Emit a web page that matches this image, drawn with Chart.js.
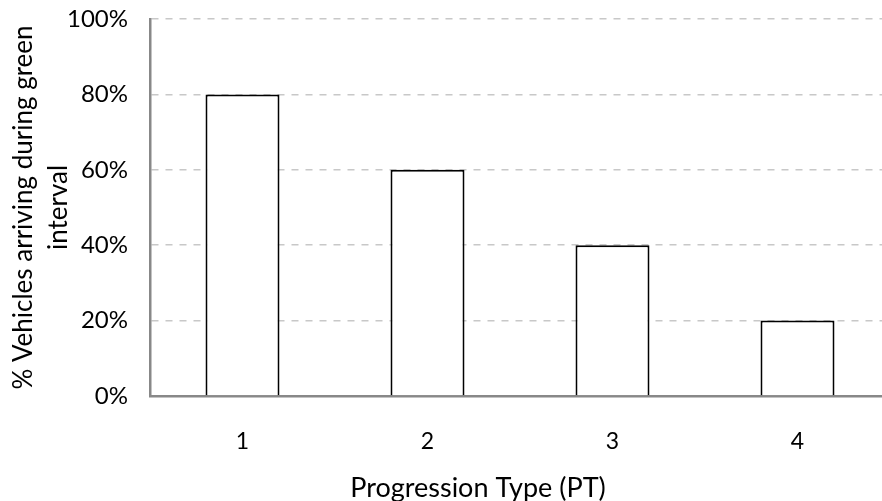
<!DOCTYPE html>
<html>
<head>
<meta charset="utf-8">
<script src="https://cdn.jsdelivr.net/npm/chart.js@4"></script>
<style>
  html, body { margin: 0; padding: 0; background: #fff; overflow: hidden; }
  #wrap { width: 882px; height: 501px; overflow: hidden; }
  #box { width: 890px; height: 501px; }
</style>
</head>
<body>
<div id="wrap"><div id="box"><canvas id="chart"></canvas></div></div>
<script>
const categories = ['1', '2', '3', '4']
const arrivingOnGreen = [80, 60, 40, 20]
const yTicks = [0, 20, 40, 60, 80, 100]
const xTitle = 'Progression Type (PT)'

const fontFamily = 'Lato, "Open Sans", sans-serif'

var ctx = document.getElementById('chart').getContext('2d')

// x title sits left of the plot centre in the original, so draw it by hand
const xTitlePlugin = {
  id: 'xTitle',
  afterDraw(chart) {
    const c = chart.ctx
    const area = chart.chartArea
    c.save()
    c.font = '27px ' + fontFamily
    c.fillStyle = '#000'
    c.textAlign = 'center'
    c.textBaseline = 'middle'
    c.fillText(xTitle, area.left + 328, area.bottom + 92)
    c.restore()
  },
}

const chart = new Chart(ctx, {
  type: 'bar',
  data: {
    labels: categories,
    datasets: [
      {
        data: arrivingOnGreen,
        backgroundColor: '#ffffff',
        borderColor: '#000000',
        borderWidth: 2,
        barPercentage: 0.4,
        categoryPercentage: 1,
      },
    ],
  },
  plugins: [xTitlePlugin],
  options: {
    responsive: true,
    maintainAspectRatio: false,
    animation: false,
    layout: { padding: { top: 19, right: 0, bottom: 0, left: 0 } },
    plugins: { legend: { display: false }, tooltip: { enabled: false } },
    scales: {
      x: {
        grid: { display: false, drawTicks: false },
        border: { color: '#888888', width: 2.5 },
        ticks: { color: '#000', padding: 32, font: { family: fontFamily, size: 23 } },
        afterFit: (scale) => {
          scale.height = 105
          scale.paddingLeft = 0
          scale.paddingRight = 0
        },
      },
      y: {
        min: 0,
        max: 100,
        afterBuildTicks: (scale) => {
          scale.ticks = yTicks.map((v) => ({ value: v }))
        },
        grid: { color: '#c8c8c8', lineWidth: 1.5, drawTicks: false },
        border: { color: '#888888', width: 2.5, dash: [7, 7] },
        ticks: {
          color: '#000',
          padding: 22,
          font: { family: fontFamily, size: 24 },
          callback: (v) => v + '%',
        },
        title: {
          display: true,
          text: ['% Vehicles arriving during green', 'interval'],
          color: '#000',
          padding: { top: 6, bottom: 0 },
          font: { family: fontFamily, size: 26, lineHeight: 1.35 },
        },
        afterFit: (scale) => {
          scale.width = 150
          scale.paddingTop = 0
          scale.paddingBottom = 0
        },
      },
    },
  },
})
</script>
</body>
</html>
